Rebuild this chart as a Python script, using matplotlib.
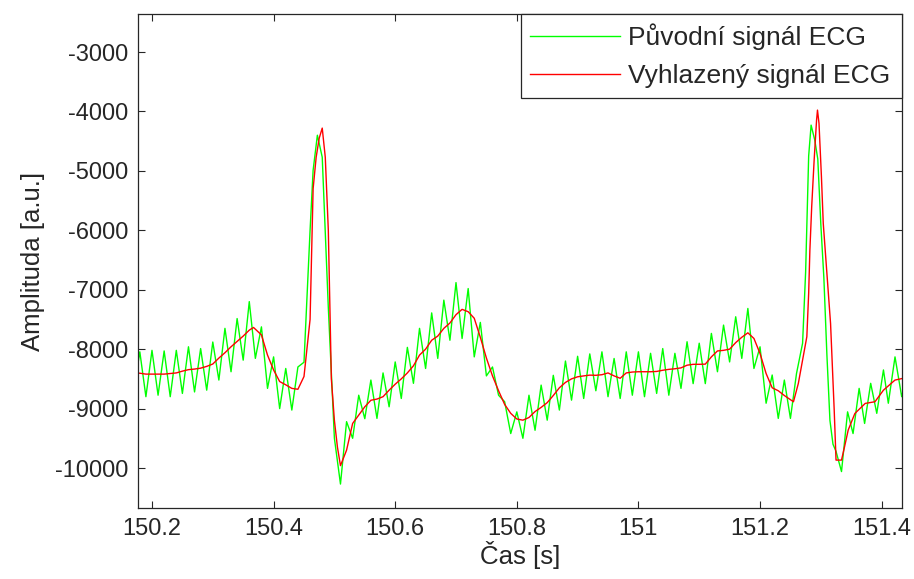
import numpy as np
import matplotlib.pyplot as plt

plt.rcParams["font.family"] = ["Liberation Sans", "DejaVu Sans"]
plt.rcParams["axes.unicode_minus"] = False

# raw ECG (with 50 Hz hum)
t_raw = [150.17, 150.18, 150.19, 150.20, 150.21, 150.22, 150.23, 150.24, 150.25, 150.26,
         150.27, 150.28, 150.29, 150.30, 150.31, 150.32, 150.33, 150.34, 150.35, 150.36,
         150.37, 150.38, 150.39, 150.40, 150.41, 150.42, 150.43, 150.44, 150.45, 150.455,
         150.46, 150.465, 150.472, 150.48, 150.485, 150.49, 150.495, 150.50, 150.51, 150.52,
         150.53, 150.54, 150.55, 150.56, 150.57, 150.58, 150.59, 150.60, 150.61, 150.62,
         150.63, 150.64, 150.65, 150.66, 150.67, 150.68, 150.69, 150.70, 150.71, 150.72,
         150.73, 150.74, 150.75, 150.76, 150.77, 150.78, 150.79, 150.80, 150.81, 150.82,
         150.83, 150.84, 150.85, 150.86, 150.87, 150.88, 150.89, 150.90, 150.91, 150.92,
         150.93, 150.94, 150.95, 150.96, 150.97, 150.98, 150.99, 151.00, 151.01, 151.02,
         151.03, 151.04, 151.05, 151.06, 151.07, 151.08, 151.09, 151.10, 151.11, 151.12,
         151.13, 151.14, 151.15, 151.16, 151.17, 151.18, 151.19, 151.20, 151.21, 151.22,
         151.23, 151.24, 151.25, 151.26, 151.27, 151.275, 151.28, 151.284, 151.29, 151.295,
         151.30, 151.305, 151.31, 151.315, 151.32, 151.325, 151.334, 151.344, 151.353, 151.363,
         151.372, 151.382, 151.392, 151.403, 151.411, 151.422, 151.433, 151.44]
v_raw = [-8700, -8045, -8800, -8020, -8775, -8030, -8800, -8020, -8745, -7960,
         -8720, -7990, -8690, -7880, -8520, -7650, -8380, -7485, -8185, -7200,
         -8155, -7625, -8660, -8130, -9000, -8325, -9025, -8300, -8220, -7100,
         -6000, -4990, -4400, -4770, -6050, -7300, -8400, -9500, -10270, -9220,
         -9500, -8775, -9170, -8520, -9165, -8400, -8970, -8215, -8830, -7970,
         -8575, -7650, -8325, -7390, -8155, -7175, -7850, -6880, -7820, -6980,
         -8130, -7550, -8450, -8300, -8775, -8885, -9420, -9055, -9500, -8775,
         -9365, -8605, -9195, -8440, -9025, -8200, -8858, -8120, -8830, -8080,
         -8700, -8045, -8800, -8157, -8830, -8045, -8775, -8045, -8800, -8070,
         -8745, -7990, -8775, -8070, -8660, -7875, -8580, -7900, -8580, -7735,
         -8380, -7595, -8215, -7455, -8155, -7315, -8325, -7960, -8910, -8435,
         -9165, -8520, -9165, -8410, -7900, -6700, -4750, -4230, -4480, -4800,
         -5900, -6800, -8100, -9200, -9600, -9720, -10060, -9055, -9420, -8660,
         -9250, -8575, -9080, -8350, -8910, -8130, -8800, -8500]

# smoothed ECG
t_smooth = [150.17, 150.18, 150.19, 150.20, 150.21, 150.22, 150.23, 150.24, 150.25, 150.26,
            150.27, 150.28, 150.29, 150.30, 150.31, 150.32, 150.33, 150.34, 150.35, 150.36,
            150.367, 150.38, 150.39, 150.40, 150.41, 150.42, 150.43, 150.44, 150.45, 150.46,
            150.465, 150.47, 150.475, 150.48, 150.485, 150.49, 150.495, 150.50, 150.505, 150.51,
            150.52, 150.53, 150.54, 150.55, 150.56, 150.57, 150.58, 150.59, 150.60, 150.61,
            150.62, 150.63, 150.64, 150.65, 150.66, 150.67, 150.68, 150.69, 150.70, 150.71,
            150.72, 150.73, 150.74, 150.75, 150.76, 150.77, 150.78, 150.79, 150.80, 150.81,
            150.82, 150.83, 150.84, 150.85, 150.86, 150.87, 150.88, 150.89, 150.90, 150.91,
            150.92, 150.93, 150.94, 150.95, 150.96, 150.97, 150.98, 150.99, 151.00, 151.01,
            151.02, 151.03, 151.04, 151.05, 151.06, 151.07, 151.08, 151.09, 151.10, 151.11,
            151.12, 151.13, 151.14, 151.15, 151.16, 151.17, 151.18, 151.19, 151.20, 151.21,
            151.22, 151.23, 151.24, 151.255, 151.263, 151.271, 151.277, 151.280, 151.282, 151.285,
            151.289, 151.293, 151.2945, 151.297, 151.301, 151.304, 151.310, 151.316, 151.322, 151.325,
            151.334, 151.339, 151.345, 151.356, 151.373, 151.389, 151.403, 151.422, 151.44]
v_smooth = [-8400, -8405, -8420, -8420, -8420, -8420, -8410, -8400, -8370, -8345,
            -8335, -8320, -8290, -8250, -8150, -8060, -7960, -7870, -7780, -7680,
            -7635, -7760, -8100, -8350, -8545, -8600, -8660, -8675, -8460, -7500,
            -5300, -4770, -4450, -4280, -4770, -6000, -8500, -9200, -9650, -9960,
            -9700, -9250, -9110, -8970, -8860, -8840, -8800, -8690, -8590, -8500,
            -8400, -8280, -8100, -8000, -7850, -7780, -7650, -7560, -7420, -7330,
            -7370, -7480, -7800, -8150, -8450, -8700, -8930, -9080, -9175, -9195,
            -9150, -9050, -8980, -8900, -8780, -8650, -8560, -8500, -8465, -8450,
            -8437, -8440, -8430, -8400, -8450, -8490, -8400, -8385, -8380, -8380,
            -8380, -8375, -8355, -8340, -8330, -8315, -8270, -8255, -8255, -8252,
            -8130, -8030, -8020, -8000, -7890, -7800, -7725, -7820, -8073, -8410,
            -8650, -8700, -8780, -8885, -8577, -8130, -7790, -7060, -6333, -5600,
            -4820, -4145, -3977, -4200, -5100, -5884, -6726, -7567, -9026, -9867,
            -9867, -9643, -9362, -9082, -8913, -8885, -8690, -8520, -8480]

x_ticks = [150.2, 150.4, 150.6, 150.8, 151.0, 151.2, 151.4]
x_ticklabels = ["150.2", "150.4", "150.6", "150.8", "151", "151.2", "151.4"]
y_ticks = [-10000, -9000, -8000, -7000, -6000, -5000, -4000, -3000]

fig = plt.figure(figsize=(9.14, 5.79), dpi=100)
ax = fig.add_axes([138 / 914, 71 / 579, 764 / 914, 494 / 579])

ax.plot(t_raw, v_raw, color="#00ff00", lw=1.0, label="Původní signál ECG")
ax.plot(t_smooth, v_smooth, color="#ff0000", lw=1.0, label="Vyhlazený signál ECG")

ax.set_xlim(150.177, 151.4335)
ax.set_ylim(-10673, -2360)
ax.set_xticks(x_ticks)
ax.set_xticklabels(x_ticklabels)
ax.set_yticks(y_ticks)
ax.tick_params(direction="in", top=True, right=True, length=5, width=0.8,
               labelsize=17, pad=7, colors="#262626", labelcolor="#262626")
for s in ax.spines.values():
    s.set_linewidth(0.9)
    s.set_color("#262626")

ax.set_xlabel("Čas [s]", fontsize=18.5, labelpad=1, color="#262626")
ax.set_ylabel("Amplituda [a.u.]", fontsize=18.5, labelpad=7, color="#262626")

# legend box stretched to the same width as in the original, flush with the corner
leg = ax.legend(loc="upper right", bbox_to_anchor=(0.5013, 0.83, 0.4987, 0.17),
                mode="expand", borderaxespad=0, fancybox=False, framealpha=1,
                edgecolor="#262626", fontsize=19, handlelength=3.4, handletextpad=0.3,
                borderpad=0.35, labelspacing=0.55)
leg.get_frame().set_linewidth(0.9)
for txt in leg.get_texts():
    txt.set_color("#262626")

plt.savefig("out.png", dpi=100)
